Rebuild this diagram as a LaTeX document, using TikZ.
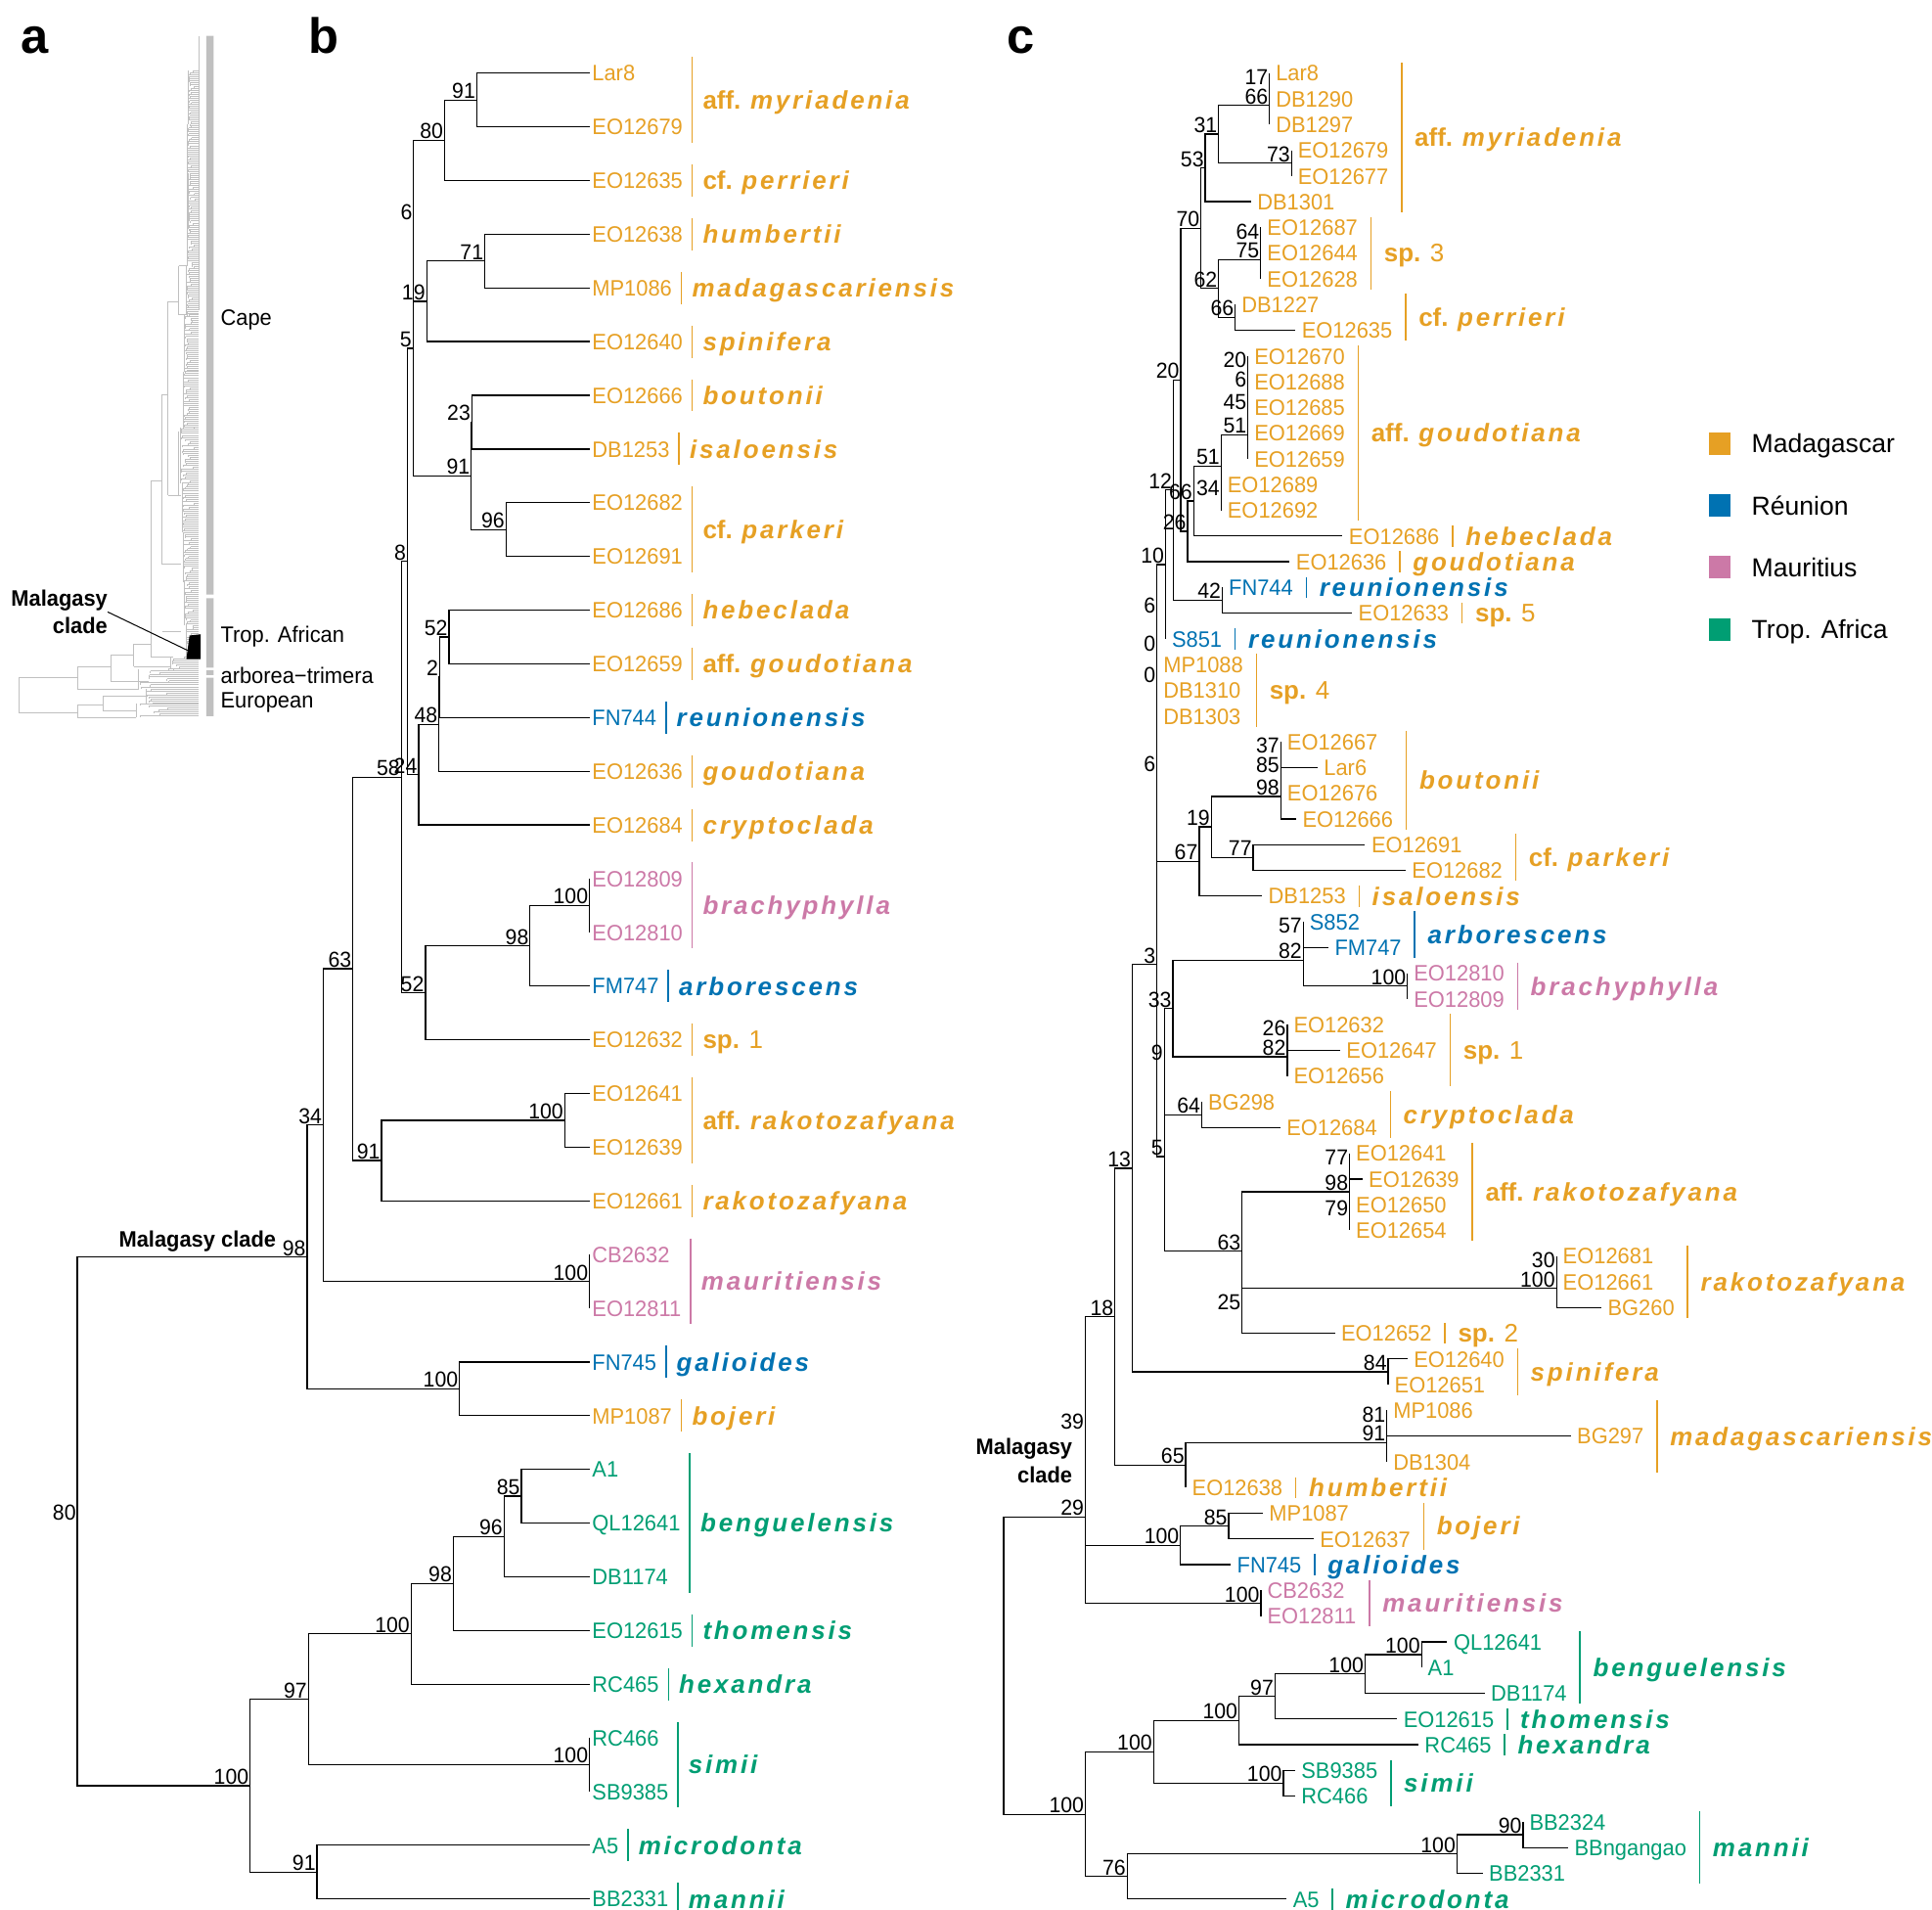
\documentclass[tikz,border=0pt]{standalone}
\usepackage{fontspec}
\setmainfont{Liberation Sans}
\newfontfamily\tipfont{Liberation Sans}[FakeStretch=0.96]
\newfontfamily\sppfont{Liberation Sans}[LetterSpace=11]
\usetikzlibrary{positioning, calc}
\definecolor{mada}{HTML}{E6A024}
\definecolor{reun}{HTML}{0072B2}
\definecolor{maur}{HTML}{CC79A7}
\definecolor{trop}{HTML}{009E73}
\definecolor{agrey}{HTML}{C0C0C0}

\tikzset{
  edge/.style={line width=1pt, black},
  bar/.style={line width=1.2pt},
  tipb/.style={anchor=west, inner sep=2pt, text height=13pt, text depth=0pt, font=\tipfont\fontsize{18}{20}\selectfont},
  tipc/.style={tipb, inner sep=5pt},
  nlab/.style={anchor=south east, inner sep=1pt, text height=12.5pt, text depth=0pt, font=\tipfont\fontsize{17.5}{19}\selectfont},
  slab/.style={anchor=west, inner sep=0pt, text height=14.7pt, text depth=0pt, font=\fontsize{20.5}{22}\selectfont},
  alab/.style={anchor=west, inner sep=0pt, text height=13pt, text depth=0pt, font=\tipfont\fontsize{18}{20}\selectfont},
  mclab/.style={inner sep=0pt, font=\tipfont\bfseries\fontsize{18}{22.5}\selectfont},
  legt/.style={anchor=west, inner sep=0pt, text height=15pt, text depth=0pt, font=\fontsize{21}{23}\selectfont},
  panel/.style={anchor=base west, inner sep=0pt, font=\bfseries\fontsize{40}{44}\selectfont},
  atree/.style={agrey, line width=0.6pt}
}

\newcommand\sn[1]{{\sppfont\bfseries\itshape #1}}
\newcommand\qb[1]{{\bfseries #1}}
\newcommand\tb[3]{\node[tipb,#3] (b-#1) at (476,{59+43.35*(#2-1)}) {#1};}
\newcommand\tc[4]{\node[tipc,#4] (c-#1) at (#3,{59+20.76*(#2-1)}) {#1};}
\newcommand\clade[5]{\coordinate (tmp) at ($(#4)!0.5!(#5)$);
  \coordinate (#1) at (#2,0 |- tmp);
  \node[nlab] (#1-l) at (#1) {#3};
  \draw[edge] (#4) -| (#1) |- (#5);}
\newcommand\grpb[5]{\coordinate (gx) at ([xshift=5.5pt]b-#1.east);
  \draw[bar,#4] ([yshift=13pt]gx |- b-#2) -- ([yshift=-13pt]gx |- b-#3) node[slab,midway,xshift=8pt] (b-#1-s) {#5};}
\newcommand\grpc[5]{\coordinate (gx) at ([xshift=5.5pt]c-#1.east);
  \draw[bar,#4] ([yshift=8.5pt]gx |- c-#2) -- ([yshift=-8.5pt]gx |- c-#3) node[slab,midway,xshift=10pt] (c-#1-s) {#5};}

\begin{document}
\begin{tikzpicture}[x=1pt, y=-1pt]
\useasboundingbox (0,0) rectangle (1560,1541.8);

\node[panel] (pa) at (17,43) {a};
\node[panel] (pb) at (249,43) {b};
\node[panel] (pc) at (813,43) {c};

% a
\pgfmathsetseed{11}
\draw[atree] (15.3,547) -- (15.3,575.4) (15.3,547) -- (62.7,547) (15.3,575.4) -- (62.7,575.4)
  (62.7,538.5) -- (62.7,556) (62.7,538.5) -- (89.5,538.5) (62.7,556) -- (112,556)
  (62.7,569) -- (62.7,579) (62.7,569) -- (83,569) (62.7,579) -- (110,579)
  (83,562) -- (83,574) (83,562) -- (118,562) (83,574) -- (110,574)
  (89.5,529) -- (89.5,550) (89.5,529) -- (108,529) (89.5,550) -- (120,550)
  (108,520) -- (108,538) (108,520) -- (121.9,520) (108,538) -- (138,538)
  (121.9,388) -- (121.9,530) (121.9,388) -- (130.9,388) (121.9,530) -- (140,530)
  (130.9,318.6) -- (130.9,455.5) (130.9,318.6) -- (135.6,318.6) (130.9,455.5) -- (146,455.5)
  (135.6,243.6) -- (135.6,400) (135.6,243.6) -- (144.3,243.6) (135.6,400) -- (146,400)
  (144.3,214.6) -- (144.3,254) (144.3,214.6) -- (151,214.6) (144.3,254) -- (150,254)
  (130.9,510) -- (146,510) (144.3,348) -- (144.3,400)
  (151,120) -- (151,214.6) (151,120) -- (152,120) (161,29) -- (161,250);
\foreach \ya/\yb/\xc in {57/100/152,100/140/151,140/185/152,185/215/151,215/254/150,254/300/149,300/345/148,345/390/146,390/430/147,430/470/148,470/505/149,505/530/150,530/540/138,540/556/112,556/568/118,568/579/110}{
  \draw[atree] (\xc,\ya) -- (\xc,\yb);
  \pgfmathsetmacro\ysec{\ya+1.6}
  \foreach \yt in {\ya,\ysec,...,\yb}{
    \pgfmathsetmacro\xt{\xc+(158-\xc)*rnd*rnd}
    \draw[atree] (\xt,\yt) -- (160,\yt) (\xt,\yt) -- (\xt,\yt+1.6);
  }
}
\fill[agrey] (166.5,29) rectangle (172.5,480) (166.5,483) rectangle (172.5,539)
  (166.5,541) rectangle (172.5,545) (166.5,547) rectangle (172.5,578);
\fill[black] (153,513) -- (162,512) -- (162,532) -- (150.5,532) -- cycle;
\coordinate (a-blob) at (151.5,525);
\node[alab] (a-cape) at (178,256) {Cape};
\node[alab] (a-trop) at (178,512) {Trop. African};
\node[alab] (a-arb) at (178,545) {arborea−trimera};
\node[alab] (a-eur) at (178,565) {European};
\node[mclab, align=right, anchor=east] (a-mc) at (87,494) {Malagasy\\clade};
\draw[line width=0.8pt] (a-mc.east) -- (a-blob);

% b
\tb{Lar8}{1}{mada}
\tb{EO12679}{2}{mada}
\tb{EO12635}{3}{mada}
\tb{EO12638}{4}{mada}
\tb{MP1086}{5}{mada}
\tb{EO12640}{6}{mada}
\tb{EO12666}{7}{mada}
\tb{DB1253}{8}{mada}
\tb{EO12682}{9}{mada}
\tb{EO12691}{10}{mada}
\tb{EO12686}{11}{mada}
\tb{EO12659}{12}{mada}
\tb{FN744}{13}{reun}
\tb{EO12636}{14}{mada}
\tb{EO12684}{15}{mada}
\tb{EO12809}{16}{maur}
\tb{EO12810}{17}{maur}
\tb{FM747}{18}{reun}
\tb{EO12632}{19}{mada}
\tb{EO12641}{20}{mada}
\tb{EO12639}{21}{mada}
\tb{EO12661}{22}{mada}
\tb{CB2632}{23}{maur}
\tb{EO12811}{24}{maur}
\tb{FN745}{25}{reun}
\tb{MP1087}{26}{mada}
\tb{A1}{27}{trop}
\tb{QL12641}{28}{trop}
\tb{DB1174}{29}{trop}
\tb{EO12615}{30}{trop}
\tb{RC465}{31}{trop}
\tb{RC466}{32}{trop}
\tb{SB9385}{33}{trop}
\tb{A5}{34}{trop}
\tb{BB2331}{35}{trop}

\clade{b91a}{385}{91}{b-Lar8}{b-EO12679}
\clade{b80}{359}{80}{b91a}{b-EO12635}
\clade{b71}{391.5}{71}{b-EO12638}{b-MP1086}
\clade{b19}{344.5}{19}{b71}{b-EO12640}
\clade{b6}{334}{6}{b80}{b19}
\clade{b23}{381}{23}{b-EO12666}{b-DB1253}
\clade{b96}{408.5}{96}{b-EO12682}{b-EO12691}
\clade{b91b}{380.5}{91}{b23}{b96}
\clade{b5}{333.5}{5}{b6}{b91b}
\clade{b52}{362.5}{52}{b-EO12686}{b-EO12659}
\clade{b2}{355}{2}{b52}{b-FN744}
\clade{b48}{354.5}{48}{b2}{b-EO12636}
\clade{b24}{338}{24}{b48}{b-EO12684}
\clade{b8}{329}{8}{b5}{b24}
\clade{b100c}{476}{100}{b-EO12809}{b-EO12810}
\clade{b98}{428}{98}{b100c}{b-FM747}
\clade{b52b}{343.5}{52}{b98}{b-EO12632}
\clade{b58}{324}{58}{b8}{b52b}
\clade{b100r}{456}{100}{b-EO12641}{b-EO12639}
\clade{b91r}{308}{91}{b100r}{b-EO12661}
\clade{b63}{285}{63}{b58}{b91r}
\clade{b100m}{476}{100}{b-CB2632}{b-EO12811}
\clade{b34}{261}{34}{b63}{b100m}
\clade{b100g}{371}{100}{b-FN745}{b-MP1087}
\clade{b98m}{248}{98}{b34}{b100g}
\clade{b85}{421}{85}{b-A1}{b-QL12641}
\clade{b96b}{407}{96}{b85}{b-DB1174}
\clade{b98b}{366}{98}{b96b}{b-EO12615}
\clade{b100b}{332}{100}{b98b}{b-RC465}
\clade{b100s}{476}{100}{b-RC466}{b-SB9385}
\clade{b97}{249}{97}{b100b}{b100s}
\clade{b91m}{256}{91}{b-A5}{b-BB2331}
\clade{b100a}{202}{100}{b97}{b91m}
\clade{broot}{62.5}{80}{b98m}{b100a}
\node[mclab, anchor=south east] (b-mc) at (223,1011) {Malagasy clade};

\grpb{EO12679}{Lar8}{EO12679}{mada}{\qb{aff.} \sn{myriadenia}}
\grpb{EO12635}{EO12635}{EO12635}{mada}{\qb{cf.} \sn{perrieri}}
\grpb{EO12638}{EO12638}{EO12638}{mada}{\sn{humbertii}}
\grpb{MP1086}{MP1086}{MP1086}{mada}{\sn{madagascariensis}}
\grpb{EO12640}{EO12640}{EO12640}{mada}{\sn{spinifera}}
\grpb{EO12666}{EO12666}{EO12666}{mada}{\sn{boutonii}}
\grpb{DB1253}{DB1253}{DB1253}{mada}{\sn{isaloensis}}
\grpb{EO12682}{EO12682}{EO12691}{mada}{\qb{cf.} \sn{parkeri}}
\grpb{EO12686}{EO12686}{EO12686}{mada}{\sn{hebeclada}}
\grpb{EO12659}{EO12659}{EO12659}{mada}{\qb{aff.} \sn{goudotiana}}
\grpb{FN744}{FN744}{FN744}{reun}{\sn{reunionensis}}
\grpb{EO12636}{EO12636}{EO12636}{mada}{\sn{goudotiana}}
\grpb{EO12684}{EO12684}{EO12684}{mada}{\sn{cryptoclada}}
\grpb{EO12809}{EO12809}{EO12810}{maur}{\sn{brachyphylla}}
\grpb{FM747}{FM747}{FM747}{reun}{\sn{arborescens}}
\grpb{EO12632}{EO12632}{EO12632}{mada}{\qb{sp.} 1}
\grpb{EO12641}{EO12641}{EO12639}{mada}{\qb{aff.} \sn{rakotozafyana}}
\grpb{EO12661}{EO12661}{EO12661}{mada}{\sn{rakotozafyana}}
\grpb{EO12811}{CB2632}{EO12811}{maur}{\sn{mauritiensis}}
\grpb{FN745}{FN745}{FN745}{reun}{\sn{galioides}}
\grpb{MP1087}{MP1087}{MP1087}{mada}{\sn{bojeri}}
\grpb{QL12641}{A1}{DB1174}{trop}{\sn{benguelensis}}
\grpb{EO12615}{EO12615}{EO12615}{trop}{\sn{thomensis}}
\grpb{RC465}{RC465}{RC465}{trop}{\sn{hexandra}}
\grpb{SB9385}{RC466}{SB9385}{trop}{\sn{simii}}
\grpb{A5}{A5}{A5}{trop}{\sn{microdonta}}
\grpb{BB2331}{BB2331}{BB2331}{trop}{\sn{mannii}}

% c
\tc{Lar8}{1}{1025}{mada}
\tc{DB1290}{2}{1025}{mada}
\tc{DB1297}{3}{1025}{mada}
\tc{EO12679}{4}{1042.8}{mada}
\tc{EO12677}{5}{1042.8}{mada}
\tc{DB1301}{6}{1010}{mada}
\tc{EO12687}{7}{1018}{mada}
\tc{EO12644}{8}{1018}{mada}
\tc{EO12628}{9}{1018}{mada}
\tc{DB1227}{10}{997.4}{mada}
\tc{EO12635}{11}{1046}{mada}
\tc{EO12670}{12}{1007.7}{mada}
\tc{EO12688}{13}{1007.7}{mada}
\tc{EO12685}{14}{1007.7}{mada}
\tc{EO12669}{15}{1007.7}{mada}
\tc{EO12659}{16}{1007.7}{mada}
\tc{EO12689}{17}{986}{mada}
\tc{EO12692}{18}{986}{mada}
\tc{EO12686}{19}{1084}{mada}
\tc{EO12636}{20}{1041.3}{mada}
\tc{FN744}{21}{987}{reun}
\tc{EO12633}{22}{1091.7}{mada}
\tc{S851}{23}{941.1}{reun}
\tc{MP1088}{24}{934.2}{mada}
\tc{DB1310}{25}{934.2}{mada}
\tc{DB1303}{26}{934.2}{mada}
\tc{EO12667}{27}{1034.2}{mada}
\tc{Lar6}{28}{1063.8}{mada}
\tc{EO12676}{29}{1034.2}{mada}
\tc{EO12666}{30}{1046.6}{mada}
\tc{EO12691}{31}{1102.2}{mada}
\tc{EO12682}{32}{1134.9}{mada}
\tc{DB1253}{33}{1019}{mada}
\tc{S852}{34}{1052.3}{reun}
\tc{FM747}{35}{1072.6}{reun}
\tc{EO12810}{36}{1136.4}{maur}
\tc{EO12809}{37}{1136.4}{maur}
\tc{EO12632}{38}{1039.4}{mada}
\tc{EO12647}{39}{1082}{mada}
\tc{EO12656}{40}{1039.4}{mada}
\tc{BG298}{41}{970.3}{mada}
\tc{EO12684}{42}{1033.7}{mada}
\tc{EO12641}{43}{1089.7}{mada}
\tc{EO12639}{44}{1100}{mada}
\tc{EO12650}{45}{1089.7}{mada}
\tc{EO12654}{46}{1089.7}{mada}
\tc{EO12681}{47}{1256.8}{mada}
\tc{EO12661}{48}{1256.8}{mada}
\tc{BG260}{49}{1293}{mada}
\tc{EO12652}{50}{1077.8}{mada}
\tc{EO12640}{51}{1136.4}{mada}
\tc{EO12651}{52}{1120.9}{mada}
\tc{MP1086}{53}{1119.8}{mada}
\tc{BG297}{54}{1268.2}{mada}
\tc{DB1304}{55}{1119.8}{mada}
\tc{EO12638}{56}{957.4}{mada}
\tc{MP1087}{57}{1019.6}{mada}
\tc{EO12637}{58}{1060.6}{mada}
\tc{FN745}{59}{993.7}{reun}
\tc{CB2632}{60}{1018.1}{maur}
\tc{EO12811}{61}{1018.1}{maur}
\tc{QL12641}{62}{1168.6}{trop}
\tc{A1}{63}{1147.8}{trop}
\tc{DB1174}{64}{1198.7}{trop}
\tc{EO12615}{65}{1128.1}{trop}
\tc{RC465}{66}{1145.2}{trop}
\tc{SB9385}{67}{1045.6}{trop}
\tc{RC466}{68}{1045.6}{trop}
\tc{BB2324}{69}{1229.8}{trop}
\tc{BBngangao}{70}{1266.2}{trop}
\tc{BB2331}{71}{1197.1}{trop}
\tc{A5}{72}{1038.9}{trop}

\clade{c17}{1025}{17}{c-Lar8}{c-DB1290}
\clade{c66a}{1025}{66}{c17}{c-DB1297}
\clade{c73}{1042.8}{73}{c-EO12679}{c-EO12677}
\clade{c31}{984}{31}{c66a}{c73}
\clade{c53}{973.2}{53}{c31}{c-DB1301}
\clade{c64}{1018}{64}{c-EO12687}{c-EO12644}
\clade{c75}{1018}{75}{c64}{c-EO12628}
\clade{c66b}{997.4}{66}{c-DB1227}{c-EO12635}
\clade{c62}{984}{62}{c75}{c66b}
\clade{c70}{969.7}{70}{c53}{c62}
\clade{c20g}{1007.7}{20}{c-EO12670}{c-EO12688}
\clade{c6g}{1007.7}{6}{c20g}{c-EO12685}
\clade{c45g}{1007.7}{45}{c6g}{c-EO12669}
\clade{c51g}{1007.7}{51}{c45g}{c-EO12659}
\clade{c34}{986}{34}{c-EO12689}{c-EO12692}
\clade{c51b}{986}{51}{c51g}{c34}
\clade{c66c}{963.8}{66}{c51b}{c-EO12686}
\clade{c26}{958.9}{26}{c66c}{c-EO12636}
\clade{c20}{953.4}{20}{c70}{c26}
\clade{c42}{987}{42}{c-FN744}{c-EO12633}
\clade{c12}{947.5}{12}{c20}{c42}
\clade{c10}{941.1}{10}{c12}{c-S851}
\clade{c6u}{934.2}{6}{c10}{c-MP1088}
\clade{c0a}{934.2}{0}{c6u}{c-DB1310}
\clade{c0b}{934.2}{0}{c0a}{c-DB1303}
\clade{c37}{1034.2}{37}{c-EO12667}{c-Lar6}
\clade{c85}{1034.2}{85}{c37}{c-EO12676}
\clade{c98}{1034.2}{98}{c85}{c-EO12666}
\clade{c77}{1011.9}{77}{c-EO12691}{c-EO12682}
\clade{c19}{978.1}{19}{c98}{c77}
\clade{c67}{968.3}{67}{c19}{c-DB1253}
\clade{c6l}{934.2}{6}{c0b}{c67}
\clade{c57}{1052.3}{57}{c-S852}{c-FM747}
\clade{c100br}{1136.4}{100}{c-EO12810}{c-EO12809}
\clade{c82}{1052.3}{82}{c57}{c100br}
\clade{c26s}{1039.4}{26}{c-EO12632}{c-EO12647}
\clade{c82s}{1039.4}{82}{c26s}{c-EO12656}
\clade{c33}{947}{33}{c82}{c82s}
\clade{c64c}{970.3}{64}{c-BG298}{c-EO12684}
\clade{c9}{940.2}{9}{c33}{c64c}
\clade{c77r}{1089.7}{77}{c-EO12641}{c-EO12639}
\clade{c79r}{1089.7}{79}{c-EO12650}{c-EO12654}
\clade{c98r}{1089.7}{98}{c77r}{c79r}
\clade{c30}{1256.8}{30}{c-EO12681}{c-EO12661}
\clade{c100rk}{1256.8}{100}{c30}{c-BG260}
\clade{c25}{1003}{25}{c100rk}{c-EO12652}
\clade{c63}{1003}{63}{c98r}{c25}
\clade{c5}{940.2}{5}{c9}{c63}
\clade{c3}{934.2}{3}{c6l}{c5}
\clade{c84}{1120.9}{84}{c-EO12640}{c-EO12651}
\clade{c13}{914.3}{13}{c3}{c84}
\clade{c81}{1119.8}{81}{c-MP1086}{c-BG297}
\clade{c91}{1119.8}{91}{c81}{c-DB1304}
\clade{c65}{957.4}{65}{c91}{c-EO12638}
\clade{c18}{900.3}{18}{c13}{c65}
\clade{c85b}{992.1}{85}{c-MP1087}{c-EO12637}
\clade{c100bg}{953.2}{100}{c85b}{c-FN745}
\clade{c39}{876.4}{39}{c18}{c100bg}
\clade{c100mt}{1018.1}{100}{c-CB2632}{c-EO12811}
\clade{c29}{876.4}{29}{c39}{c100mt}
\clade{c100D}{1147.8}{100}{c-QL12641}{c-A1}
\clade{c100C}{1102.2}{100}{c100D}{c-DB1174}
\clade{c97}{1029.5}{97}{c100C}{c-EO12615}
\clade{c100B}{1000.4}{100}{c97}{c-RC465}
\clade{c100s}{1036.3}{100}{c-SB9385}{c-RC466}
\clade{c100A}{931.4}{100}{c100B}{c100s}
\clade{c90}{1229.8}{90}{c-BB2324}{c-BBngangao}
\clade{c100mn}{1176.4}{100}{c90}{c-BB2331}
\clade{c76}{910.1}{76}{c100mn}{c-A5}
\clade{c100af}{876.4}{100}{c100A}{c76}
\clade{croot}{810.5}{}{c29}{c100af}
\node[mclab, align=right, anchor=east] (c-mc) at (866,1179) {Malagasy\\clade};

\grpc{EO12679}{Lar8}{DB1301}{mada}{\qb{aff.} \sn{myriadenia}}
\grpc{EO12687}{EO12687}{EO12628}{mada}{\qb{sp.} 3}
\grpc{EO12635}{DB1227}{EO12635}{mada}{\qb{cf.} \sn{perrieri}}
\grpc{EO12670}{EO12670}{EO12692}{mada}{\qb{aff.} \sn{goudotiana}}
\grpc{EO12686}{EO12686}{EO12686}{mada}{\sn{hebeclada}}
\grpc{EO12636}{EO12636}{EO12636}{mada}{\sn{goudotiana}}
\grpc{FN744}{FN744}{FN744}{reun}{\sn{reunionensis}}
\grpc{EO12633}{EO12633}{EO12633}{mada}{\qb{sp.} 5}
\grpc{S851}{S851}{S851}{reun}{\sn{reunionensis}}
\grpc{MP1088}{MP1088}{DB1303}{mada}{\qb{sp.} 4}
\grpc{EO12666}{EO12667}{EO12666}{mada}{\sn{boutonii}}
\grpc{EO12682}{EO12691}{EO12682}{mada}{\qb{cf.} \sn{parkeri}}
\grpc{DB1253}{DB1253}{DB1253}{mada}{\sn{isaloensis}}
\grpc{FM747}{S852}{FM747}{reun}{\sn{arborescens}}
\grpc{EO12810}{EO12810}{EO12809}{maur}{\sn{brachyphylla}}
\grpc{EO12647}{EO12632}{EO12656}{mada}{\qb{sp.} 1}
\grpc{EO12684}{BG298}{EO12684}{mada}{\sn{cryptoclada}}
\grpc{EO12639}{EO12641}{EO12654}{mada}{\qb{aff.} \sn{rakotozafyana}}
\grpc{BG260}{EO12681}{BG260}{mada}{\sn{rakotozafyana}}
\grpc{EO12652}{EO12652}{EO12652}{mada}{\qb{sp.} 2}
\grpc{EO12640}{EO12640}{EO12651}{mada}{\sn{spinifera}}
\grpc{BG297}{MP1086}{DB1304}{mada}{\sn{madagascariensis}}
\grpc{EO12638}{EO12638}{EO12638}{mada}{\sn{humbertii}}
\grpc{EO12637}{MP1087}{EO12637}{mada}{\sn{bojeri}}
\grpc{FN745}{FN745}{FN745}{reun}{\sn{galioides}}
\grpc{EO12811}{CB2632}{EO12811}{maur}{\sn{mauritiensis}}
\grpc{DB1174}{QL12641}{DB1174}{trop}{\sn{benguelensis}}
\grpc{EO12615}{EO12615}{EO12615}{trop}{\sn{thomensis}}
\grpc{RC465}{RC465}{RC465}{trop}{\sn{hexandra}}
\grpc{SB9385}{SB9385}{RC466}{trop}{\sn{simii}}
\grpc{BBngangao}{BB2324}{BB2331}{trop}{\sn{mannii}}
\grpc{A5}{A5}{A5}{trop}{\sn{microdonta}}

\foreach \c/\t [count=\i] in {mada/Madagascar, reun/Réunion, maur/Mauritius, trop/Trop. Africa}{
  \node[fill=\c, minimum width=17pt, minimum height=18pt, inner sep=0pt] (lg\i) at (1388.5,{358+50*(\i-1)}) {};
  \node[legt, right=17pt of lg\i] (lt\i) {\t};
}
\end{tikzpicture}
\end{document}
